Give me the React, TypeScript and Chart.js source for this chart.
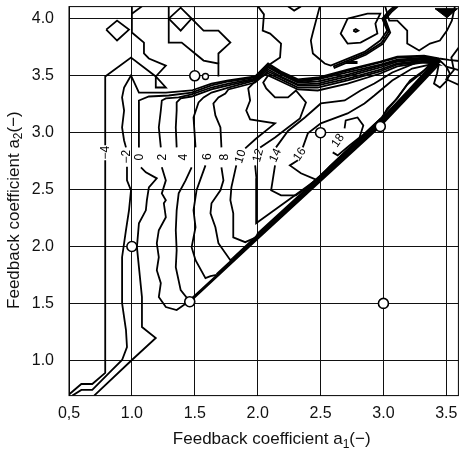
import React, { useEffect, useRef } from "react";
import { Chart, registerables } from "chart.js";
Chart.register(...registerables);

const FONT = '"Liberation Sans", Arial, Helvetica, sans-serif';

const xTickValues = [0.5, 1.0, 1.5, 2.0, 2.5, 3.0, 3.5];
const xTickLabels = ["0,5", "1.0", "1.5", "2.0", "2.5", "3.0", "3.5"];
const yTickValues = [1.0, 1.5, 2.0, 2.5, 3.0, 3.5, 4.0];
const yTickLabels = ["1.0", "1.5", "2.0", "2.5", "3.0", "3.5", "4.0"];

// axis titles: [main text, subscript, tail]
const xTitleParts = ["Feedback coefficient a", "1", "(−)"];
const yTitleParts = ["Feedback coefficient a", "2", "(−)"];

// contour labels
const contourLevels = ["−4", "−2", "0", "2", "4", "6", "8", "10", "12", "14", "16", "18"];
const labelX = [0.788, 0.955, 1.06, 1.245, 1.41, 1.6, 1.74, 1.865, 2.005, 2.142, 2.335, 2.64];
const labelY = [2.825, 2.79, 2.785, 2.785, 2.785, 2.79, 2.785, 2.79, 2.8, 2.8, 2.81, 2.93];
const labelAngle = [-90, -90, -90, -90, -90, -90, -90, -72, -75, -65, -55, -55];

// measurement points
const markerX = [1.0, 1.5, 1.46, 2.5, 2.975, 3.0];
const markerY = [2.0, 3.5, 1.515, 3.0, 3.055, 1.5];
const smallMarkerX = [1.585];
const smallMarkerY = [3.494];

// contour polylines, [a1, a2] pairs
const contourM4 = [
  [[0.5, 0.7], [0.598, 0.792], [0.685, 0.792], [0.788, 0.889], [0.788, 2.757]],
  [[0.788, 2.89], [0.788, 3.494], [0.993, 3.66], [1.19, 3.494], [1.27, 3.397], [1.19, 3.397], [1.19, 3.494], [1.27, 3.59], [1.135, 3.652], [1.096, 3.696], [1.096, 3.792], [1.0, 3.88], [1.0, 4.11]],
  [[1.0, 4.046], [1.08, 4.11]],
  [[0.796, 3.906], [0.882, 3.985], [0.977, 3.906], [0.882, 3.81], [0.796, 3.906]],
];
const contourM2 = [
  [[0.527, 0.69], [0.598, 0.74], [0.685, 0.74], [0.819, 0.889], [0.922, 1.003], [0.961, 1.117], [0.953, 1.266], [0.922, 1.503], [0.922, 1.617], [0.922, 1.906], [0.953, 2.143], [0.977, 2.318], [0.993, 2.494], [0.961, 2.581], [0.961, 2.7]],
  [[0.953, 2.871], [0.938, 2.932], [0.922, 3.046], [0.938, 3.195], [0.922, 3.31], [0.938, 3.397], [0.993, 3.503], [1.056, 3.353], [1.27, 3.353], [1.475, 3.371], [1.633, 3.432], [1.767, 3.459], [1.98, 3.494], [2.083, 3.608], [2.186, 3.538], [2.32, 3.468], [2.478, 3.485], [2.715, 3.555], [2.975, 3.625], [3.11, 3.669], [3.323, 3.678], [3.441, 3.652], [3.52, 3.64], [3.6, 3.63]],
];
const contour0 = [
  [[0.7, 0.69], [1.0, 1.003], [1.19, 1.196], [1.08, 1.293], [1.08, 1.556], [1.056, 1.819], [1.04, 1.994], [1.056, 2.204], [1.111, 2.318], [1.119, 2.406], [1.135, 2.52], [1.198, 2.599], [1.111, 2.652], [1.072, 2.696]],
  [[1.056, 2.871], [1.056, 3.283], [1.135, 3.318], [1.293, 3.327], [1.475, 3.353], [1.633, 3.415], [1.767, 3.45], [1.98, 3.485], [2.083, 3.599], [2.186, 3.529], [2.32, 3.459], [2.478, 3.476], [2.715, 3.546], [2.975, 3.617], [3.11, 3.66], [3.323, 3.669], [3.441, 3.643], [3.5, 3.58], [3.6, 3.55]],
];
const contour2 = [
  [[1.459, 1.512], [1.435, 1.503], [1.356, 1.442], [1.27, 1.468], [1.214, 1.556], [1.23, 1.678], [1.198, 1.792], [1.214, 1.906], [1.198, 2.029], [1.214, 2.143], [1.27, 2.257], [1.254, 2.38], [1.27, 2.406], [1.238, 2.467], [1.27, 2.581], [1.238, 2.696]],
  [[1.23, 2.871], [1.214, 3.046], [1.23, 3.195], [1.238, 3.283], [1.27, 3.301], [1.372, 3.31], [1.475, 3.336], [1.633, 3.397], [1.767, 3.432], [1.98, 3.476], [2.083, 3.582], [2.186, 3.52], [2.32, 3.45], [2.478, 3.468], [2.715, 3.529], [2.975, 3.599], [3.11, 3.643], [3.323, 3.66], [3.441, 3.634], [3.43, 3.585], [3.2, 3.317], [2.975, 3.055], [2.5, 2.574], [2.0, 2.067], [1.459, 1.512]],
];
const contour4 = [
  [[1.46, 1.525], [1.451, 1.529], [1.388, 1.617], [1.349, 1.819], [1.356, 1.968], [1.349, 2.143], [1.356, 2.318], [1.372, 2.467], [1.427, 2.581], [1.475, 2.696]],
  [[1.356, 2.871], [1.349, 3.046], [1.356, 3.195], [1.356, 3.266], [1.388, 3.301], [1.475, 3.318], [1.633, 3.38], [1.767, 3.415], [1.98, 3.468], [2.083, 3.573], [2.186, 3.511], [2.32, 3.441], [2.478, 3.45], [2.715, 3.511], [2.975, 3.59], [3.11, 3.634], [3.323, 3.652], [3.441, 3.625], [3.425, 3.595], [3.2, 3.328], [2.975, 3.066], [2.5, 2.585], [2.0, 2.078], [1.46, 1.528]],
];
const contour6 = [
  [[1.673, 1.75], [1.625, 1.74], [1.585, 1.722], [1.506, 1.88], [1.475, 1.994], [1.506, 2.169], [1.49, 2.318], [1.514, 2.494], [1.585, 2.713]],
  [[1.506, 2.871], [1.49, 3.134], [1.53, 3.266], [1.57, 3.31], [1.633, 3.353], [1.767, 3.397], [1.98, 3.459], [2.083, 3.555], [2.186, 3.494], [2.32, 3.424], [2.478, 3.432], [2.715, 3.494], [2.975, 3.573], [3.11, 3.625], [3.323, 3.643], [3.441, 3.617], [3.42, 3.605], [3.2, 3.34], [2.975, 3.078], [2.5, 2.597], [2.0, 2.09], [1.673, 1.757]],
];
const contour8 = [
  [[1.8, 1.895], [1.783, 1.88], [1.688, 2.029], [1.664, 2.169], [1.625, 2.292], [1.633, 2.38], [1.704, 2.494], [1.728, 2.581], [1.712, 2.696]],
  [[1.712, 2.871], [1.704, 3.046], [1.664, 3.152], [1.648, 3.257], [1.688, 3.31], [1.743, 3.345], [1.767, 3.38], [1.98, 3.441], [2.083, 3.538], [2.186, 3.485], [2.32, 3.415], [2.478, 3.415], [2.715, 3.476], [2.975, 3.555], [3.11, 3.608], [3.323, 3.634], [3.441, 3.608], [3.415, 3.612], [3.2, 3.352], [2.975, 3.09], [2.5, 2.609], [2.0, 2.102], [1.8, 1.895]],
];
const contour10 = [
  [[2.0, 2.114], [1.988, 2.081], [1.901, 2.038], [1.806, 2.081], [1.806, 2.292], [1.783, 2.406], [1.791, 2.52], [1.83, 2.713]],
  [[1.901, 2.862], [1.988, 2.949], [2.138, 3.082], [1.94, 3.117], [1.909, 3.195], [1.94, 3.283], [1.925, 3.389], [2.003, 3.476], [2.083, 3.52], [2.186, 3.468], [2.32, 3.397], [2.478, 3.397], [2.715, 3.459], [2.975, 3.538], [3.11, 3.599], [3.323, 3.625], [3.441, 3.608], [3.41, 3.618], [3.2, 3.364], [2.975, 3.102], [2.5, 2.621], [2.0, 2.114]],
];
const contour12 = [
  [[1.98, 2.713], [1.99, 2.6], [1.988, 2.494], [1.988, 2.204], [2.454, 2.575], [2.975, 3.112], [3.2, 3.375], [3.405, 3.624], [3.441, 3.599], [3.323, 3.617], [3.11, 3.582], [2.975, 3.52], [2.715, 3.432], [2.478, 3.371], [2.32, 3.38], [2.186, 3.45], [2.083, 3.503], [2.044, 3.441], [2.068, 3.389], [2.138, 3.31], [2.241, 3.31], [2.304, 3.371], [2.384, 3.266], [2.336, 3.125], [2.241, 3.046], [2.138, 2.958], [2.02, 2.871]],
];
const contour14 = [
  [[2.138, 2.713], [2.107, 2.494], [2.186, 2.45], [2.304, 2.45], [2.384, 2.512], [2.49, 2.615], [2.975, 3.12], [2.991, 3.13], [3.03, 3.213], [3.11, 3.301], [3.212, 3.459], [3.323, 3.546], [3.394, 3.617], [3.268, 3.617], [3.07, 3.529], [2.928, 3.432], [2.818, 3.371], [2.692, 3.283], [2.502, 3.257], [2.375, 3.134], [2.241, 3.015], [2.146, 2.871]],
];
const contour16 = [
  [[2.32, 2.757], [2.256, 2.713], [2.344, 2.643], [2.478, 2.581], [2.573, 2.705], [2.983, 3.13], [3.014, 3.178], [3.094, 3.283], [3.189, 3.424], [3.307, 3.529], [3.37, 3.599], [3.228, 3.564], [3.07, 3.459], [2.928, 3.327], [2.849, 3.257], [2.715, 3.169], [2.502, 3.082], [2.399, 2.994], [2.359, 2.871]],
];
const contour18 = [
  [[2.691, 3.037], [2.7, 3.108], [2.794, 3.134], [2.84, 3.064], [2.81, 2.958], [2.73, 2.888], [2.636, 2.801], [2.597, 2.827]],
];
// irregular contours in the upper part
const upperLines = [
  [[1.293, 4.11], [1.293, 3.792], [1.396, 3.792], [1.57, 3.634], [1.688, 3.608], [1.688, 3.494]],
  [[1.293, 4.003], [1.388, 4.099], [1.475, 4.003], [1.388, 3.897], [1.293, 4.003]],
  [[1.475, 4.003], [1.57, 3.897], [1.688, 3.897], [1.783, 3.792], [1.688, 3.696], [1.688, 3.608]],
  [[2.003, 4.11], [2.05, 4.04], [2.04, 3.897], [2.099, 3.871], [2.186, 3.783], [2.178, 3.66], [2.107, 3.608], [2.083, 3.58]],
  [[2.241, 4.11], [2.29, 4.073], [2.344, 4.11]],
  [[2.494, 4.11], [2.439, 3.88], [2.423, 3.81], [2.439, 3.696], [2.533, 3.608], [2.581, 3.59], [2.849, 3.71], [2.975, 3.81], [3.03, 3.897], [2.991, 4.003], [3.046, 4.073], [3.086, 4.11]],
  [[2.6, 3.58], [2.855, 3.697], [2.985, 3.79], [3.042, 3.89], [3.003, 4.0], [3.058, 4.07], [3.1, 4.11]],
  [[2.605, 3.568], [2.86, 3.685], [2.995, 3.78], [3.054, 3.88], [3.015, 3.997], [3.07, 4.067], [3.115, 4.11]],
  [[2.715, 4.003], [2.66, 3.871], [2.715, 3.783], [2.818, 3.792], [2.952, 3.871], [2.936, 3.959], [2.975, 4.046], [2.873, 4.046], [2.715, 4.003]],
  [[2.76, 3.897], [2.78, 3.91], [2.8, 3.897], [2.78, 3.885], [2.76, 3.897]],
  [[3.014, 4.11], [3.046, 3.985], [3.11, 3.985], [3.189, 3.897], [3.189, 3.783], [3.284, 3.722], [3.37, 3.783], [3.449, 3.81], [3.505, 3.897], [3.544, 3.985], [3.568, 4.11]],
  [[3.6, 3.75], [3.54, 3.66], [3.56, 3.55], [3.5, 3.47], [3.6, 3.42]],
  [[3.44, 3.6], [3.426, 3.52], [3.402, 3.432], [3.449, 3.397], [3.505, 3.459], [3.528, 3.52], [3.5, 3.58]],
];
const thickDash = [[2.7, 3.617], [2.794, 3.617]];
const filledTriangle = [[3.41, 4.09], [3.59, 4.09], [3.505, 4.01], [3.41, 4.09]];

const allContours = [contourM4, contourM2, contour0, contour2, contour4, contour6, contour8, contour10, contour12, contour14, contour16, contour18, upperLines];

const toXY = (seg: number[][]) => seg.map(([x, y]) => ({ x, y }));

function drawSubTitle(ctx: any, parts: string[], cx: number, cy: number, rot: number) {
  const main = `17px ${FONT}`;
  const sub = `12px ${FONT}`;
  ctx.save();
  ctx.translate(cx, cy);
  ctx.rotate(rot);
  ctx.fillStyle = "#111";
  ctx.textBaseline = "middle";
  ctx.textAlign = "left";
  ctx.font = main;
  const w0 = ctx.measureText(parts[0]).width;
  const w2 = ctx.measureText(parts[2]).width;
  ctx.font = sub;
  const w1 = ctx.measureText(parts[1]).width;
  let x = -(w0 + w1 + w2) / 2;
  ctx.font = main;
  ctx.fillText(parts[0], x, 0);
  x += w0;
  ctx.font = sub;
  ctx.fillText(parts[1], x, 5);
  x += w1;
  ctx.font = main;
  ctx.fillText(parts[2], x, 0);
  ctx.restore();
}

export default function App() {
  const ref = useRef<HTMLCanvasElement | null>(null);
  useEffect(() => {
    if (!ref.current) return;
    const lineDs: any[] = [];
    allContours.forEach((c) =>
      c.forEach((seg) =>
        lineDs.push({
          data: toXY(seg),
          showLine: true,
          pointRadius: 0,
          borderColor: "#000",
          borderWidth: 1.8,
          tension: 0,
          order: 2,
        })
      )
    );
    lineDs.push({ data: toXY(thickDash), showLine: true, pointRadius: 0, borderColor: "#000", borderWidth: 3, order: 2 });
    lineDs.push({ data: toXY(filledTriangle), showLine: true, pointRadius: 0, borderColor: "#000", borderWidth: 1, backgroundColor: "#000", fill: "shape", order: 2 });
    lineDs.push({
      data: markerX.map((x, i) => ({ x, y: markerY[i] })),
      showLine: false,
      pointRadius: 5,
      pointBackgroundColor: "#fff",
      pointBorderColor: "#000",
      pointBorderWidth: 1.6,
      order: 0,
    });
    lineDs.push({
      data: smallMarkerX.map((x, i) => ({ x, y: smallMarkerY[i] })),
      showLine: false,
      pointRadius: 3,
      pointBackgroundColor: "#fff",
      pointBorderColor: "#000",
      pointBorderWidth: 1.4,
      order: 0,
    });

    const labelPlugin = {
      id: "contourLabels",
      afterDatasetsDraw(chart: any) {
        const { ctx, scales } = chart;
        ctx.save();
        ctx.font = `12px ${FONT}`;
        ctx.fillStyle = "#000";
        ctx.textAlign = "center";
        ctx.textBaseline = "middle";
        contourLevels.forEach((t, i) => {
          ctx.save();
          ctx.translate(scales.x.getPixelForValue(labelX[i]), scales.y.getPixelForValue(labelY[i]));
          ctx.rotate((labelAngle[i] * Math.PI) / 180);
          ctx.fillText(t, 0, 0);
          ctx.restore();
        });
        ctx.restore();
      },
    };
    const framePlugin = {
      id: "frame",
      afterDatasetsDraw(chart: any) {
        const { ctx, chartArea: a } = chart;
        ctx.save();
        ctx.strokeStyle = "#000";
        ctx.lineWidth = 1;
        ctx.strokeRect(a.left, a.top, a.right - a.left, a.bottom - a.top);
        ctx.restore();
      },
    };
    const titlePlugin = {
      id: "axisTitles",
      afterDraw(chart: any) {
        const { ctx, chartArea: a } = chart;
        drawSubTitle(ctx, xTitleParts, (a.left + a.right) / 2 + 8, a.bottom + 44, 0);
        drawSubTitle(ctx, yTitleParts, 14, (a.top + a.bottom) / 2 + 9, -Math.PI / 2);
      },
    };

    const chart = new Chart(ref.current, {
      type: "scatter",
      data: { datasets: lineDs },
      options: {
        animation: false,
        responsive: true,
        maintainAspectRatio: false,
        layout: { padding: { top: 6, right: 4, left: 0, bottom: 0 } },
        plugins: { legend: { display: false }, tooltip: { enabled: false } },
        scales: {
          x: {
            type: "linear",
            min: 0.5,
            max: 3.596,
            afterBuildTicks: (s: any) => {
              s.ticks = xTickValues.map((v) => ({ value: v }));
            },
            afterFit: (s: any) => {
              s.height = 56.4;
              s.paddingLeft = 0;
              s.paddingRight = 0;
            },
            grid: { color: "#111", lineWidth: 1, drawTicks: false },
            border: { display: false },
            ticks: {
              padding: 8,
              autoSkip: false,
              maxRotation: 0,
              color: "#111",
              font: { size: 16, family: FONT },
              callback: (v: any) => xTickLabels[xTickValues.indexOf(Number(v))] ?? "",
            },
            title: { display: false },
          },
          y: {
            type: "linear",
            min: 0.69,
            max: 4.108,
            afterBuildTicks: (s: any) => {
              s.ticks = yTickValues.map((v) => ({ value: v }));
            },
            afterFit: (s: any) => {
              s.width = 69;
              s.paddingTop = 0;
              s.paddingBottom = 0;
            },
            grid: { color: "#111", lineWidth: 1, drawTicks: false },
            border: { display: false },
            ticks: {
              padding: 15,
              autoSkip: false,
              color: "#111",
              font: { size: 16, family: FONT },
              callback: (v: any) => yTickLabels[yTickValues.indexOf(Number(v))] ?? "",
            },
            title: { display: false },
          },
        },
      },
      plugins: [labelPlugin, framePlugin, titlePlugin],
    } as any);
    return () => chart.destroy();
  }, []);
  return (
    <div style={{ position: "absolute", left: 0, top: 0, width: 465, height: 452 }}>
      <canvas ref={ref} />
    </div>
  );
}
